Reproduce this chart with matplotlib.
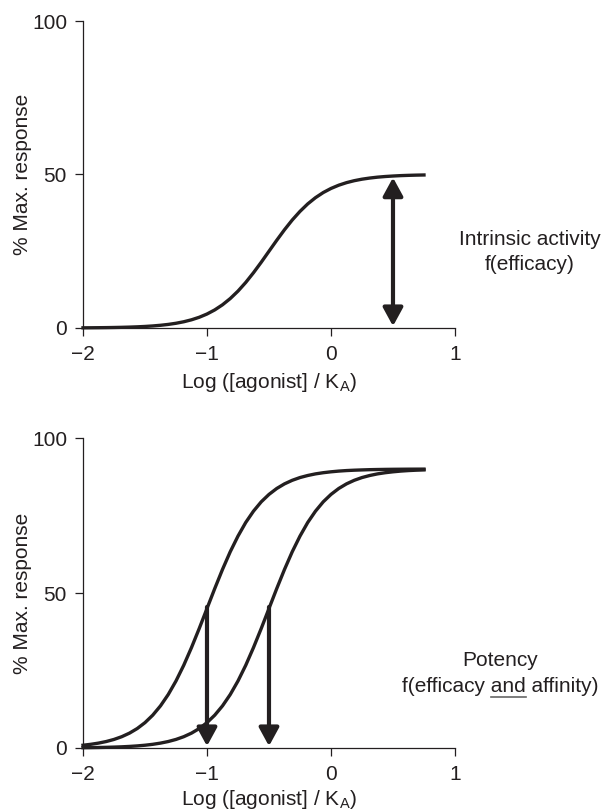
import matplotlib
matplotlib.use("Agg")
import matplotlib.pyplot as plt

plt.rcParams['font.family'] = ['Liberation Sans', 'DejaVu Sans']
plt.rcParams['mathtext.default'] = 'regular'

INK = '#231f20'

# ---- data ----
x_vals = [-2 + 0.0625 * i for i in range(45)]   # -2 ... 0.75
top_curve = [0.050, 0.067, 0.089, 0.118, 0.158, 0.210, 0.280, 0.372, 0.495,
             0.658, 0.874, 1.158, 1.533, 2.024, 2.662, 3.487, 4.545, 5.883,
             7.549, 9.584, 12.01, 14.83, 18.00, 21.42, 25.0, 28.57, 32.00,
             35.17, 37.98, 40.42, 42.45, 44.12, 45.45, 46.51, 47.34, 47.98,
             48.47, 48.84, 49.13, 49.34, 49.50, 49.63, 49.72, 49.79, 49.84]
bottom_left = [0.891, 1.184, 1.573, 2.084, 2.759, 3.643, 4.792, 6.277, 8.181,
               10.59, 13.59, 17.25, 21.62, 26.69, 32.40, 38.56, 45.0, 51.43,
               57.60, 63.31, 68.36, 72.76, 76.41, 79.42, 81.81, 83.72, 85.21,
               86.36, 87.25, 87.91, 88.43, 88.81, 89.10, 89.33, 89.50, 89.62,
               89.71, 89.79, 89.84, 89.88, 89.91, 89.93, 89.95, 89.96, 89.97]
bottom_right = [0.090, 0.120, 0.160, 0.213, 0.284, 0.378, 0.503, 0.670, 0.891,
                1.184, 1.573, 2.084, 2.759, 3.643, 4.792, 6.277, 8.181, 10.59,
                13.59, 17.25, 21.62, 26.69, 32.40, 38.56, 45.0, 51.43, 57.60,
                63.31, 68.36, 72.76, 76.41, 79.42, 81.81, 83.72, 85.21, 86.36,
                87.25, 87.91, 88.43, 88.81, 89.10, 89.33, 89.50, 89.62, 89.71]

x_ticks = [-2, -1, 0, 1]
x_tick_labels = ['\u22122', '\u22121', '0', '1']
y_ticks = [0, 50, 100]
y_tick_labels = ['0', '50', '100']

top_arrow_x = 0.5
top_arrow_y = (0.6, 49.0)
bottom_arrows_x = [-1.0, -0.5]
bottom_arrow_y = (45.5, 0.6)

xlabel = 'Log ([agonist] / K$_A$)'
ylabel = '% Max. response'
top_text = ['Intrinsic activity', 'f(efficacy)']
bottom_text = ['Potency', 'f(efficacy and affinity)']

fig = plt.figure(figsize=(6.04, 8.11), dpi=100)
ax1 = fig.add_axes([0.1374, 0.5956, 0.6159, 0.3785])
ax2 = fig.add_axes([0.1374, 0.0777, 0.6159, 0.3822])


def style(ax, ylab_x, xlab_y):
    ax.set_xlim(-2, 1)
    ax.set_ylim(0, 100)
    for s in ['top', 'right']:
        ax.spines[s].set_visible(False)
    for s in ['left', 'bottom']:
        ax.spines[s].set_linewidth(0.9)
        ax.spines[s].set_color(INK)
    ax.set_xticks(x_ticks)
    ax.set_xticklabels(x_tick_labels)
    ax.set_yticks(y_ticks)
    ax.set_yticklabels(y_tick_labels)
    ax.tick_params(direction='out', length=5.5, width=0.9, colors=INK,
                   labelsize=15)
    ax.tick_params(axis='x', pad=6.5)
    ax.tick_params(axis='y', pad=6)
    ax.set_xlabel(xlabel, fontsize=15, color=INK)
    ax.set_ylabel(ylabel, fontsize=15, color=INK)
    ax.yaxis.set_label_coords(ylab_x, 0.5)
    ax.xaxis.set_label_coords(0.5, xlab_y)
    ax.patch.set_visible(False)


style(ax1, -0.137, -0.14)
style(ax2, -0.137, -0.128)

head = 'head_length=0.55,head_width=0.3'

# top panel
ax1.plot(x_vals, top_curve, color=INK, lw=2.4, clip_on=False)
ax1.annotate('', xy=(top_arrow_x, top_arrow_y[1]), xytext=(top_arrow_x, top_arrow_y[0]),
             arrowprops=dict(arrowstyle='<|-|>,' + head, mutation_scale=20, lw=3,
                             color=INK, shrinkA=0, shrinkB=0))
ax1.text(1.605, 27.0, top_text[0], ha='center', va='baseline', fontsize=15,
         color=INK, clip_on=False)
ax1.text(1.605, 18.9, top_text[1], ha='center', va='baseline', fontsize=15,
         color=INK, clip_on=False)

# bottom panel
ax2.plot(x_vals, bottom_left, color=INK, lw=2.4, clip_on=False)
ax2.plot(x_vals, bottom_right, color=INK, lw=2.4, clip_on=False)
for bx in bottom_arrows_x:
    ax2.annotate('', xy=(bx, bottom_arrow_y[1]), xytext=(bx, bottom_arrow_y[0]),
                 arrowprops=dict(arrowstyle='-|>,' + head, mutation_scale=20, lw=3,
                                 color=INK, shrinkA=0, shrinkB=0))
ax2.text(1.363, 26.6, bottom_text[0], ha='center', va='baseline', fontsize=15,
         color=INK, clip_on=False)
t2 = ax2.text(1.363, 18.0, bottom_text[1], ha='center', va='baseline', fontsize=15,
              color=INK, clip_on=False)

# underline under "and"
renderer = fig.canvas.get_renderer()
bb = t2.get_window_extent(renderer)
full = t2.get_text()
pre = full[:full.index('and') + 3]
tmp = fig.text(0, 0, pre, fontsize=15)
w_pre = tmp.get_window_extent(renderer).width
tmp.set_text('and')
w_and = tmp.get_window_extent(renderer).width
tmp.remove()
x_end = bb.x0 + w_pre
x_start = x_end - w_and
base_disp = ax2.transData.transform((1.363, 18.0))[1]
y_ul = base_disp - 5
inv = ax2.transData.inverted()
(ux0, uy), (ux1, _) = inv.transform([(x_start, y_ul), (x_end, y_ul)])
ax2.plot([ux0, ux1], [uy, uy], color='#666666', lw=1.2, clip_on=False)

fig.savefig('out.png', dpi=100)
